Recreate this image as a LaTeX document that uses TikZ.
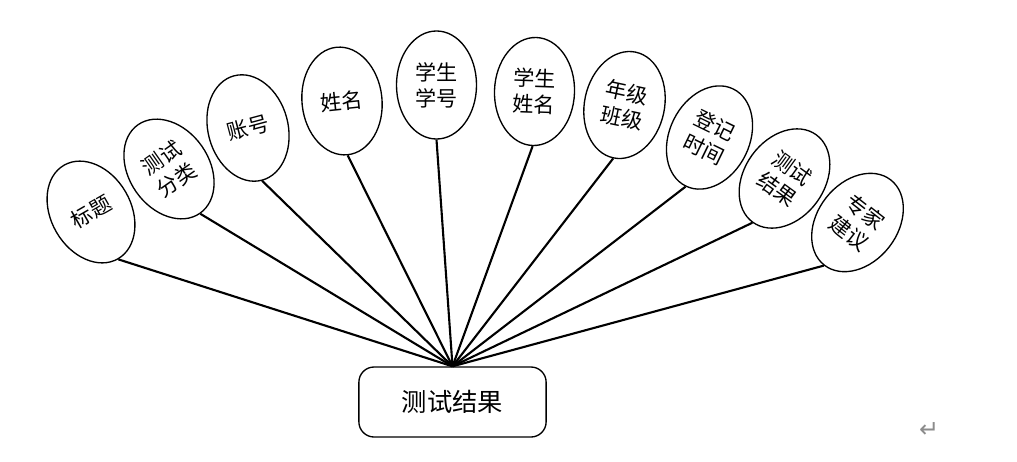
\documentclass[tikz,border=0pt]{standalone}
\usepackage{fontspec}
\setmainfont{Noto Sans CJK SC}
\newfontfamily\symfont{DejaVu Sans}
\usetikzlibrary{shapes.geometric}

\begin{document}
\begin{tikzpicture}[
  x=0.025cm, y=-0.025cm,
  attr/.style={draw, ellipse, line width=0.95pt, inner sep=0pt,
               minimum width=2cm, minimum height=2.7cm, align=center,
               font=\fontsize{15}{18.5}\selectfont},
  entity/.style={draw, rounded corners=0.38cm, line width=0.95pt,
                 minimum width=4.68cm, minimum height=1.75cm,
                 font=\fontsize{18}{20}\selectfont},
  link/.style={line width=1.5pt, black},
  retmark/.style={font=\symfont\fontsize{17}{17}\selectfont, text=black!45,
                  inner sep=0pt}]
\useasboundingbox (0,0) rectangle (1017,461);

% ========================= the entity ==========================
\node[entity] (res) at (452.5,402) {测试结果};

% ===================== its ten attributes ======================
\node[attr, rotate=30]  (t1)  at (91,212)      {标题};
\node[attr, rotate=35]  (t2)  at (169,169)     {测试\\分类};
\node[attr, rotate=15]  (t3)  at (248,128)     {账号};
\node[attr, rotate=6]   (t4)  at (342,101)     {姓名};
\node[attr]             (t5)  at (436.5,85)    {学生\\学号};
\node[attr, rotate=-2]  (t6)  at (534.5,91.5)  {学生\\姓名};
\node[attr, rotate=-12] (t7)  at (624.5,105)   {年级\\班级};
\node[attr, rotate=-26] (t8)  at (709.5,137.5) {登记\\时间};
\node[attr, rotate=-36] (t9)  at (784.5,178.5) {测试\\结果};
\node[attr, rotate=-38] (t10) at (857.5,222.5) {专家\\建议};

% every attribute hangs from the top of the box
\foreach \tt in {t1,t2,t3,t4,t5,t6,t7,t8,t9,t10}{
  \draw[link] (\tt.south) -- (res.north);}

\node[retmark] (ret) at (929,430) {↵};

\end{tikzpicture}
\end{document}
